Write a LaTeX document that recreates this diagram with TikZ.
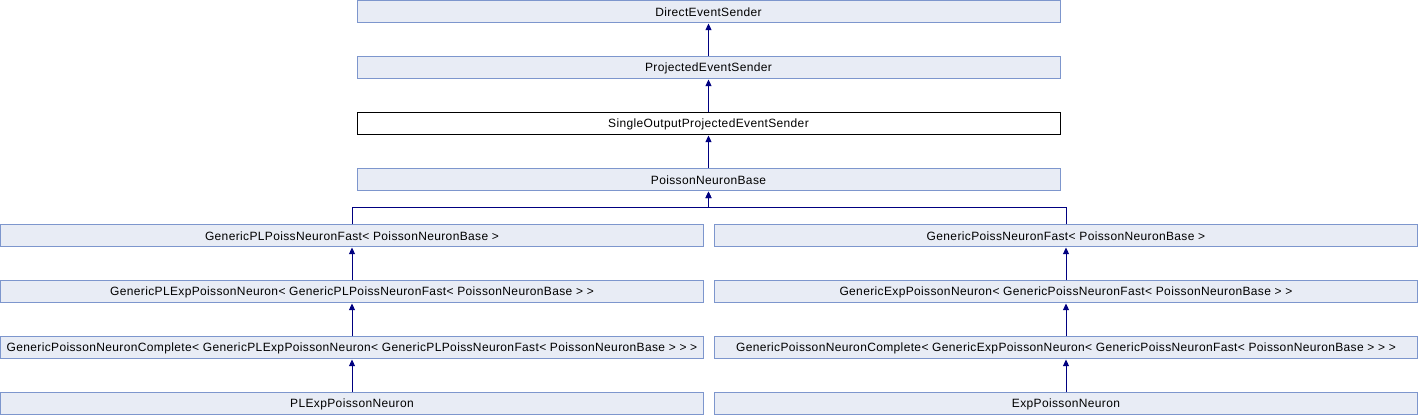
\documentclass[tikz,border=0pt]{standalone}
\usepackage{fontspec}
\setmainfont{Liberation Sans}
\newfontfamily\diafont[LetterSpace=3]{Liberation Sans}
\usetikzlibrary{arrows.meta}
\definecolor{boxfill}{RGB}{232,236,245}
\definecolor{boxline}{RGB}{125,150,205}
\definecolor{linkblue}{RGB}{0,0,128}
\tikzset{
	cls/.style={draw=boxline, fill=boxfill, line width=0.75pt, minimum width=527.25pt, minimum height=16.5pt, inner sep=0pt, font=\diafont\fontsize{9}{10}\selectfont},
	cur/.style={cls, draw=black, fill=white},
	link/.style={draw=linkblue, line width=0.75pt, -{Triangle[length=5pt,width=4.5pt]}}
}
\begin{document}
\begin{tikzpicture}[x=0.75pt,y=-0.75pt]
			\useasboundingbox (0,0) rectangle (1418,416);
			% middle chain
			\node [cls] (des) at (708.5,12) {DirectEventSender};
			\node [cls] (pes) at (708.5,68) {ProjectedEventSender};
			\node [cur] (sopes) at (708.5,124) {SingleOutputProjectedEventSender};
			\node [cls] (pnb) at (708.5,180) {PoissonNeuronBase};
			% left branch
			\node [cls] (gplf) at (352,236) {GenericPLPoissNeuronFast< PoissonNeuronBase >};
			\node [cls] (gplexp) at (352,292) {GenericPLExpPoissonNeuron< GenericPLPoissNeuronFast< PoissonNeuronBase > >};
			\node [cls] (gplcomp) at (352,348) {GenericPoissonNeuronComplete< GenericPLExpPoissonNeuron< GenericPLPoissNeuronFast< PoissonNeuronBase > > >};
			\node [cls] (plexp) at (352,404) {PLExpPoissonNeuron};
			% right branch
			\node [cls] (gpf) at (1066,236) {GenericPoissNeuronFast< PoissonNeuronBase >};
			\node [cls] (gexp) at (1066,292) {GenericExpPoissonNeuron< GenericPoissNeuronFast< PoissonNeuronBase > >};
			\node [cls] (gcomp) at (1066,348) {GenericPoissonNeuronComplete< GenericExpPoissonNeuron< GenericPoissNeuronFast< PoissonNeuronBase > > >};
			\node [cls] (exp) at (1066,404) {ExpPoissonNeuron};
			\coordinate (fork) at (708.5,208);
			% inheritance arrows
			\draw [link] (pes) -- (des);
			\draw [link] (sopes) -- (pes);
			\draw [link] (pnb) -- (sopes);
			\draw [link] (gplf.north) |- (fork) -- (pnb.south);
			\draw [link] (gpf.north) |- (fork) -- (pnb.south);
			\draw [link] (gplexp) -- (gplf);
			\draw [link] (gplcomp) -- (gplexp);
			\draw [link] (plexp) -- (gplcomp);
			\draw [link] (gexp) -- (gpf);
			\draw [link] (gcomp) -- (gexp);
			\draw [link] (exp) -- (gcomp);
\end{tikzpicture}
\end{document}
